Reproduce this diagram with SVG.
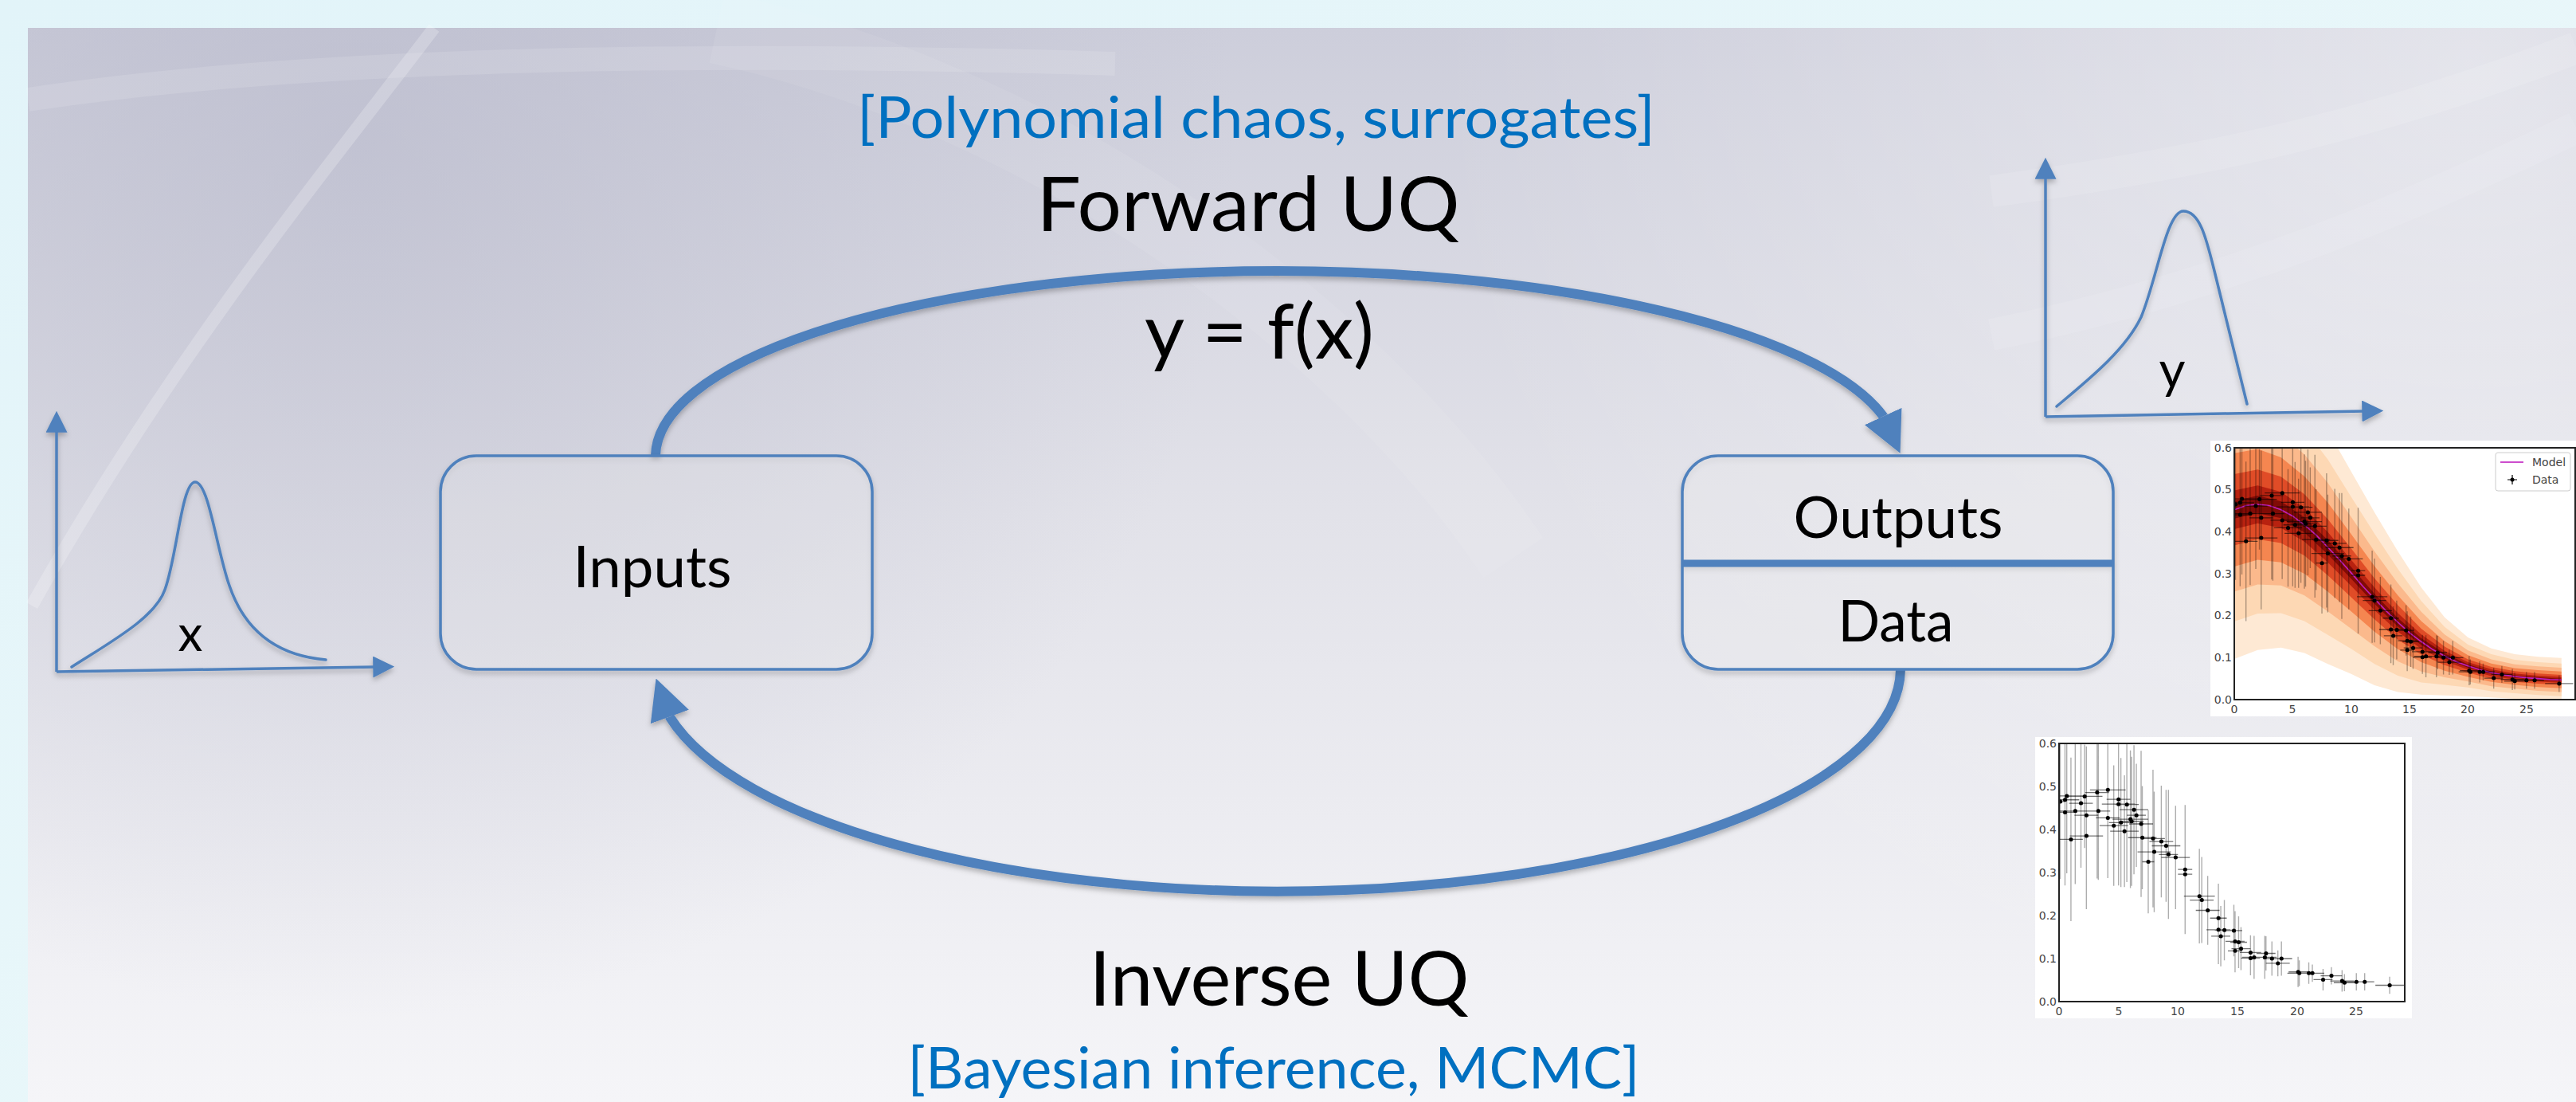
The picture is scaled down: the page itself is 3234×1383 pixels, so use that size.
<svg xmlns="http://www.w3.org/2000/svg" xmlns:xlink="http://www.w3.org/1999/xlink" width="3234" height="1383" viewBox="0 0 3234 1383">
<style>
.t{font-family:Lato,"Open Sans","DejaVu Sans",sans-serif;fill:#000}
.big{font-size:95px}
.mid{font-size:72px}
.blue{font-family:Lato,"Open Sans","DejaVu Sans",sans-serif;fill:#0070c0;font-size:72px}
.box{fill:#ffffff;fill-opacity:0.18;stroke:#4f81bd;stroke-width:3.5}
.conn{fill:none;stroke:#4f81bd;stroke-width:12}
.ax{fill:none;stroke:#4f81bd;stroke-width:3.5}
.pdf{fill:none;stroke:#4f81bd;stroke-width:3.5;stroke-linecap:round}
.tick{font-family:"DejaVu Sans",sans-serif;font-size:14px;fill:#444}
.frame{fill:none;stroke:#222;stroke-width:2}
.vb{fill:none;stroke:#000;stroke-opacity:0.32;stroke-width:1.4;vector-effect:non-scaling-stroke}
.hb{fill:none;stroke:#000;stroke-opacity:0.55;stroke-width:1.3;vector-effect:non-scaling-stroke}
.dot{fill:none;stroke:#000;stroke-width:5;stroke-linecap:round;vector-effect:non-scaling-stroke}
.model{fill:none;stroke:#c020c0;stroke-width:1.6;vector-effect:non-scaling-stroke}
</style>
<defs>
<linearGradient id="outer" x1="0" y1="0" x2="1" y2="1">
<stop offset="0" stop-color="#e2f4f9"/><stop offset="1" stop-color="#eef9fa"/>
</linearGradient>
<linearGradient id="slide" x1="0" y1="0" x2="0" y2="1">
<stop offset="0" stop-color="#cdcedb"/><stop offset="0.45" stop-color="#e2e2e9"/><stop offset="1" stop-color="#f5f5f8"/>
</linearGradient>
<radialGradient id="dark" cx="450" cy="180" r="1100" gradientUnits="userSpaceOnUse">
<stop offset="0" stop-color="#b4b5c8" stop-opacity="0.55"/><stop offset="1" stop-color="#b4b5c8" stop-opacity="0"/>
</radialGradient>
<radialGradient id="light" cx="3100" cy="80" r="1300" gradientUnits="userSpaceOnUse">
<stop offset="0" stop-color="#ffffff" stop-opacity="0.45"/><stop offset="1" stop-color="#ffffff" stop-opacity="0"/>
</radialGradient>
<filter id="sh" filterUnits="userSpaceOnUse" x="0" y="0" width="3234" height="1383">
<feDropShadow dx="0" dy="4" stdDeviation="3" flood-color="#000" flood-opacity="0.25"/>
</filter>
<marker id="ah" viewBox="0 0 10 10" refX="0" refY="5" markerUnits="userSpaceOnUse" markerWidth="51" markerHeight="52" orient="auto">
<path d="M0,0 L10,5 L0,10 z" fill="#4f81bd"/>
</marker>
<marker id="axh" viewBox="0 0 10 10" refX="1" refY="5" markerUnits="userSpaceOnUse" markerWidth="27" markerHeight="27" orient="auto">
<path d="M0,0 L10,5 L0,10 z" fill="#4f81bd"/>
</marker>
<clipPath id="c1"><rect x="2805" y="562" width="429" height="316"/></clipPath>
<clipPath id="c2"><rect x="2585" y="933" width="434" height="324"/></clipPath>
<path id="vbars" class="vb" d="M0.1 0.285V0.645M0.5 0.289V0.649M0.65 0.298V0.658M0.5 0.27V0.61M1 0.187V0.567M1.36 0.273V0.613M1.84 0.311V0.611M2.15 0.357V0.597M2.3 0.273V0.593M2.3 0.215V0.555M3.2 0.286V0.686M3.3 0.283V0.603M4.1 0.292V0.692M4.1 0.287V0.567M4.6 0.269V0.549M5 0.27V0.67M5 0.289V0.629M5.2 0.266V0.566M5.5 0.266V0.526M5.7 0.278V0.638M6 0.264V0.584M6.1 0.269V0.569M6.3 0.296V0.596M6.5 0.313V0.553M6.9 0.243V0.583M7 0.261V0.501M7.5 0.205V0.445M7.9 0.219V0.539M8 0.208V0.488M8.6 0.242V0.502M9 0.232V0.492M9.2 0.192V0.492M9.8 0.215V0.455M10.6 0.157V0.457M10.6 0.176V0.416M11.8 0.135V0.355M12 0.136V0.336M12.5 0.132V0.292M13.4 0.114V0.274M13.4 0.087V0.247M13.6 0.082V0.222M13.9 0.096V0.236M14.7 0.105V0.225M14.8 0.07V0.21M14.8 0.068V0.168M15.1 0.078V0.198M15.3 0.073V0.173M16.1 0.074V0.154M16.1 0.061V0.141M16.4 0.053V0.153M17.3 0.053V0.153M17.4 0.072V0.152M17.9 0.06V0.14M18.4 0.059V0.119M18.7 0.06V0.14M20.1 0.034V0.104M20.2 0.036V0.096M21 0.041V0.091M21.3 0.046V0.086M22.2 0.026V0.076M22.9 0.04V0.08M23.8 0.023V0.073M24 0.024V0.064M25 0.026V0.066M25.7 0.026V0.066M27.8 0.018V0.058"/>
<path id="hbars" class="hb" d="M0 0.465H0.5M-0.7 0.469H1.7M-0.85 0.478H2.15M-0.5 0.44H1.5M0 0.377H2M-0.14 0.443H2.86M0.84 0.461H2.84M0.65 0.477H3.65M1.3 0.433H3.3M0.9 0.385H3.7M2.2 0.486H4.2M2.3 0.443H4.3M2.6 0.492H5.6M3.1 0.427H5.1M3.4 0.409H5.8M4 0.47H6M3.6 0.459H6.4M4.2 0.416H6.2M4.3 0.396H6.7M4.7 0.458H6.7M4.5 0.424H7.5M5.1 0.419H7.1M5.1 0.446H7.5M5.7 0.433H7.3M5.9 0.413H7.9M5.8 0.381H8.2M7 0.325H8M6.9 0.379H8.9M6.6 0.348H9.4M7.6 0.372H9.6M7.8 0.362H10.2M8.4 0.342H10M8.6 0.335H11M10 0.307H11.2M10 0.296H11.2M10.5 0.245H13.1M11 0.236H13M11.5 0.212H13.5M12.7 0.194H14.1M12.4 0.167H14.4M12.8 0.152H14.4M13.1 0.166H14.7M14 0.165H15.4M14 0.14H15.6M14.2 0.118H15.4M14.4 0.138H15.8M14.5 0.123H16.1M15.2 0.114H17M15.3 0.101H16.9M15.4 0.103H17.4M16.3 0.103H18.3M16.6 0.112H18.2M17.2 0.1H18.6M17.4 0.089H19.4M17.8 0.1H19.6M19.3 0.069H20.9M19.2 0.066H21.2M20.2 0.066H21.8M20.3 0.066H22.3M21.4 0.051H23M22 0.06H23.8M22.8 0.048H24.8M23.1 0.044H24.9M24 0.046H26M24.9 0.046H26.5M26.6 0.038H29"/>
<path id="dots" class="dot" d="M0.1 0.465h0.01M0.5 0.469h0.01M0.65 0.478h0.01M0.5 0.44h0.01M1 0.377h0.01M1.36 0.443h0.01M1.84 0.461h0.01M2.15 0.477h0.01M2.3 0.433h0.01M2.3 0.385h0.01M3.2 0.486h0.01M3.3 0.443h0.01M4.1 0.492h0.01M4.1 0.427h0.01M4.6 0.409h0.01M5 0.47h0.01M5 0.459h0.01M5.2 0.416h0.01M5.5 0.396h0.01M5.7 0.458h0.01M6 0.424h0.01M6.1 0.419h0.01M6.3 0.446h0.01M6.5 0.433h0.01M6.9 0.413h0.01M7 0.381h0.01M7.5 0.325h0.01M7.9 0.379h0.01M8 0.348h0.01M8.6 0.372h0.01M9 0.362h0.01M9.2 0.342h0.01M9.8 0.335h0.01M10.6 0.307h0.01M10.6 0.296h0.01M11.8 0.245h0.01M12 0.236h0.01M12.5 0.212h0.01M13.4 0.194h0.01M13.4 0.167h0.01M13.6 0.152h0.01M13.9 0.166h0.01M14.7 0.165h0.01M14.8 0.14h0.01M14.8 0.118h0.01M15.1 0.138h0.01M15.3 0.123h0.01M16.1 0.114h0.01M16.1 0.101h0.01M16.4 0.103h0.01M17.3 0.103h0.01M17.4 0.112h0.01M17.9 0.1h0.01M18.4 0.089h0.01M18.7 0.1h0.01M20.1 0.069h0.01M20.2 0.066h0.01M21 0.066h0.01M21.3 0.066h0.01M22.2 0.051h0.01M22.9 0.06h0.01M23.8 0.048h0.01M24 0.044h0.01M25 0.046h0.01M25.7 0.046h0.01M27.8 0.038h0.01"/>
</defs>

<g id="background">
<rect x="0" y="0" width="3234" height="1383" fill="url(#outer)"/>
<rect x="35" y="35" width="3199" height="1348" fill="url(#slide)"/>
<rect x="35" y="35" width="3199" height="1348" fill="url(#dark)"/>
<rect x="35" y="35" width="3199" height="1348" fill="url(#light)"/>
<path d="M545,35 C420,200 220,440 40,760" fill="none" stroke="#ffffff" stroke-opacity="0.22" stroke-width="16"/>
<path d="M35,125 C400,70 900,65 1400,80" fill="none" stroke="#ffffff" stroke-opacity="0.12" stroke-width="30"/>
<path d="M900,35 C1300,120 1700,400 1900,700" fill="none" stroke="#ffffff" stroke-opacity="0.07" stroke-width="90"/>
<path d="M2500,240 C2800,200 3000,150 3234,60" fill="none" stroke="#ffffff" stroke-opacity="0.12" stroke-width="40"/>
<path d="M2500,420 C2800,360 3050,250 3234,160" fill="none" stroke="#ffffff" stroke-opacity="0.1" stroke-width="40"/>
</g>

<g id="connectors" filter="url(#sh)">
<path id="forward-arc" class="conn" d="M823,572 A780,233 0 0 1 2364,522 l0.23,0.5" marker-end="url(#ah)"/>
<path id="inverse-arc" class="conn" d="M2386,840 A782,280 0 0 1 841,900 l-0.18,-0.5" marker-end="url(#ah)"/>
</g>

<g id="connector-labels">
<text class="blue" x="1577" y="173" text-anchor="middle" textLength="1002" lengthAdjust="spacingAndGlyphs">[Polynomial chaos, surrogates]</text>
<text class="t big" x="1567" y="290" text-anchor="middle" textLength="531" lengthAdjust="spacingAndGlyphs">Forward UQ</text>
<text class="t big" x="1581" y="450" text-anchor="middle" textLength="288" lengthAdjust="spacingAndGlyphs">y = f(x)</text>
<text class="t big" x="1606" y="1262" text-anchor="middle" textLength="477" lengthAdjust="spacingAndGlyphs">Inverse UQ</text>
<text class="blue" x="1599" y="1366" text-anchor="middle" textLength="919" lengthAdjust="spacingAndGlyphs">[Bayesian inference, MCMC]</text>
</g>

<g id="inputs">
<rect class="box" x="553" y="572" width="542" height="268" rx="45" filter="url(#sh)"/>
<text class="t mid" x="819" y="737" text-anchor="middle" textLength="199" lengthAdjust="spacingAndGlyphs">Inputs</text>
</g>

<g id="outputs-data">
<g filter="url(#sh)">
<rect class="box" x="2112" y="572" width="541" height="268" rx="45"/>
<line x1="2112" y1="707" x2="2653" y2="707" stroke="#4f81bd" stroke-width="9"/>
</g>
<text class="t mid" x="2383" y="675" text-anchor="middle" textLength="263" lengthAdjust="spacingAndGlyphs">Outputs</text>
<text class="t mid" x="2380" y="805" text-anchor="middle" textLength="145" lengthAdjust="spacingAndGlyphs">Data</text>
</g>

<g id="x-distribution">
<g filter="url(#sh)">
<path class="ax" d="M71,843 V540" marker-end="url(#axh)"/>
<path class="ax" d="M71,843 L471,837" marker-end="url(#axh)"/>
<path class="pdf" d="M90,837 C140,805 195,775 207,740 C222,700 228,605 245,605 C262,605 272,690 288,735 C305,785 340,822 409,828"/>
</g>
<text class="t" x="239" y="817" font-size="62" text-anchor="middle">x</text>
</g>

<g id="y-distribution">
<g filter="url(#sh)">
<path class="ax" d="M2568,523 V222" marker-end="url(#axh)"/>
<path class="ax" d="M2568,523 L2968,516" marker-end="url(#axh)"/>
<path class="pdf" d="M2582,510 C2620,478 2668,440 2688,398 C2708,350 2720,265 2741,265 C2762,265 2770,300 2780,340 C2795,400 2810,460 2821,507"/>
</g>
<text class="t" x="2727" y="487" font-size="64" text-anchor="middle">y</text>
</g>

<g id="posterior-plot">
<rect x="2775" y="553" width="459" height="346" fill="#ffffff"/>
<g clip-path="url(#c1)">
<g transform="translate(2805 878) scale(14.67 -527)">
<polygon fill="#fee9d4" points="0,0.807 2,0.812 4,0.780 6,0.721 8,0.641 10,0.543 12,0.446 14,0.353 16,0.267 18,0.196 20,0.148 22,0.122 24,0.108 26,0.102 28,0.099 28,-0.003 26,0 24,0.002 22,0.005 20,0.008 18,0.010 16,0.012 14,0.018 12,0.034 10,0.061 8,0.085 6,0.111 4,0.124 2,0.118 0,0.097"/>
<polygon fill="#fdd8b4" points="0,0.718 2,0.725 4,0.698 6,0.645 8,0.572 10,0.483 12,0.395 14,0.311 16,0.235 18,0.173 20,0.131 22,0.108 24,0.095 26,0.089 28,0.086 28,0.008 26,0.011 24,0.015 22,0.020 20,0.029 18,0.035 16,0.041 14,0.057 12,0.085 10,0.121 8,0.154 6,0.187 4,0.206 2,0.205 0,0.186"/>
<polygon fill="#fbb98c" points="0,0.647 2,0.656 4,0.632 6,0.584 8,0.516 10,0.435 12,0.353 14,0.277 16,0.209 18,0.155 20,0.117 22,0.096 24,0.084 26,0.079 28,0.076 28,0.018 26,0.021 24,0.026 22,0.032 20,0.043 18,0.053 16,0.067 14,0.091 12,0.127 10,0.169 8,0.210 6,0.248 4,0.272 2,0.274 0,0.257"/>
<polygon fill="#f58650" points="0,0.587 2,0.597 4,0.577 6,0.532 8,0.469 10,0.394 12,0.318 14,0.248 16,0.187 18,0.139 20,0.106 22,0.086 24,0.075 26,0.070 28,0.067 28,0.027 26,0.030 24,0.035 22,0.042 20,0.054 18,0.069 16,0.089 14,0.120 12,0.162 10,0.210 8,0.257 6,0.300 4,0.327 2,0.333 0,0.317"/>
<polygon fill="#e04c27" points="0,0.537 2,0.548 4,0.531 6,0.489 8,0.430 10,0.360 12,0.289 14,0.225 16,0.169 18,0.126 20,0.096 22,0.078 24,0.068 26,0.062 28,0.059 28,0.035 26,0.038 24,0.042 22,0.050 20,0.064 18,0.082 16,0.107 14,0.143 12,0.191 10,0.244 8,0.296 6,0.343 4,0.373 2,0.382 0,0.367"/>
<polygon fill="#b82210" points="0,0.498 2,0.510 4,0.495 6,0.456 8,0.399 10,0.333 12,0.267 14,0.206 16,0.155 18,0.116 20,0.089 22,0.072 24,0.062 26,0.057 28,0.054 28,0.040 26,0.043 24,0.048 22,0.056 20,0.071 18,0.092 16,0.121 14,0.162 12,0.213 10,0.271 8,0.327 6,0.376 4,0.409 2,0.420 0,0.406"/>
<polygon fill="#800b06" points="0,0.473 2,0.486 4,0.472 6,0.434 8,0.380 10,0.316 12,0.252 14,0.194 16,0.146 18,0.110 20,0.084 22,0.067 24,0.058 26,0.053 28,0.050 28,0.044 26,0.047 24,0.052 22,0.061 20,0.076 18,0.098 16,0.130 14,0.174 12,0.228 10,0.288 8,0.346 6,0.398 4,0.432 2,0.444 0,0.431"/>
<path class="model" d="M0 0.452L1 0.462 2 0.465 3 0.462 4 0.452 5 0.437 6 0.416 7 0.392 8 0.363 9 0.333 10 0.302 11 0.270 12 0.240 13 0.211 14 0.184 15 0.159 16 0.138 17 0.119 18 0.104 19 0.090 20 0.080 21 0.071 22 0.064 23 0.059 24 0.055 25 0.052 26 0.050 27 0.048 28 0.047"/>
</g>
<use href="#vbars" transform="translate(2805 878) scale(14.67 -527)"/>
<use href="#hbars" transform="translate(2805 878) scale(14.67 -527)"/>
<use href="#dots" transform="translate(2805 878) scale(14.67 -527)"/>
</g>
<rect class="frame" x="2805" y="562" width="428" height="316"/>
<rect x="3133" y="568" width="94" height="48" rx="3" fill="#ffffff" fill-opacity="0.9" stroke="#cccccc" stroke-width="1"/>
<line x1="3139" y1="580" x2="3168" y2="580" stroke="#c020c0" stroke-width="1.6"/>
<path d="M3154,596 V608 M3148,602 H3160" stroke="#000" stroke-width="1.2"/>
<circle cx="3154" cy="602" r="2.5" fill="#000"/>
<text class="tick" x="3179" y="585" font-size="12">Model</text>
<text class="tick" x="3179" y="607" font-size="12">Data</text>
<g class="tick" text-anchor="end">
<text x="2802" y="883">0.0</text><text x="2802" y="830">0.1</text><text x="2802" y="777">0.2</text><text x="2802" y="725">0.3</text><text x="2802" y="672">0.4</text><text x="2802" y="619">0.5</text><text x="2802" y="567">0.6</text>
</g>
<g class="tick" text-anchor="middle">
<text x="2805" y="895">0</text><text x="2878" y="895">5</text><text x="2952" y="895">10</text><text x="3025" y="895">15</text><text x="3098" y="895">20</text><text x="3172" y="895">25</text>
</g>
</g>

<g id="data-plot">
<rect x="2555" y="925" width="473" height="353" fill="#ffffff"/>
<g clip-path="url(#c2)">
<use href="#vbars" transform="translate(2585 1257) scale(14.93 -540)"/>
<use href="#hbars" transform="translate(2585 1257) scale(14.93 -540)"/>
<use href="#dots" transform="translate(2585 1257) scale(14.93 -540)"/>
</g>
<rect class="frame" x="2585" y="933" width="434" height="324"/>
<g class="tick" text-anchor="end">
<text x="2582" y="1262">0.0</text><text x="2582" y="1208">0.1</text><text x="2582" y="1154">0.2</text><text x="2582" y="1100">0.3</text><text x="2582" y="1046">0.4</text><text x="2582" y="992">0.5</text><text x="2582" y="938">0.6</text>
</g>
<g class="tick" text-anchor="middle">
<text x="2585" y="1274">0</text><text x="2660" y="1274">5</text><text x="2734" y="1274">10</text><text x="2809" y="1274">15</text><text x="2884" y="1274">20</text><text x="2958" y="1274">25</text>
</g>
</g>
</svg>
